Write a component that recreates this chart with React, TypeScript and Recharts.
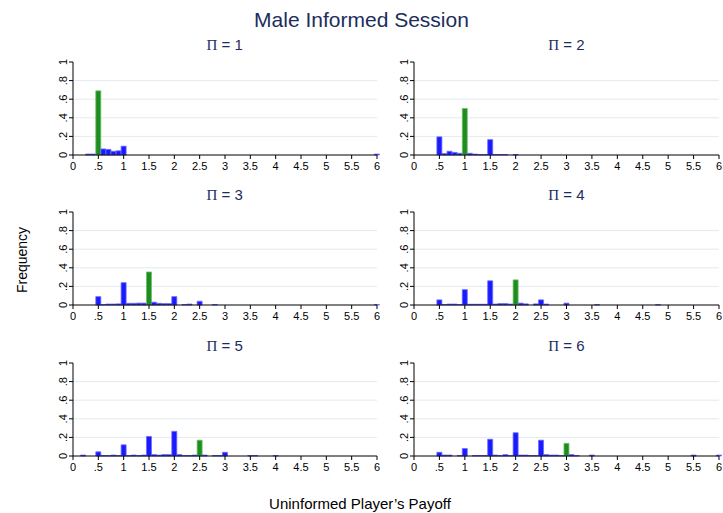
import React from "react";
import { BarChart, Bar, XAxis, YAxis, CartesianGrid, Cell } from "recharts";

const FONT = '"Liberation Sans", Arial, Helvetica, sans-serif';
const NAVY = "#1c2d5c";
const BLUE = "#1a1aff";
const BLUE_EDGE = "#6a6aff";
const GREEN = "#1e8c1e";
const GREEN_EDGE = "#6cbf6c";

const chartTitle = "Male Informed Session";
const yTitle = "Frequency";
const xTitle = "Uninformed Player\u2019s Payoff";

const xTicks = [0, 0.5, 1, 1.5, 2, 2.5, 3, 3.5, 4, 4.5, 5, 5.5, 6];
const yTicks = [0, 0.2, 0.4, 0.6, 0.8, 1];
const gridValues = [0.2, 0.4, 0.6, 0.8];

// equilibrium (green) bin for each Π
const piValues = [1, 2, 3, 4, 5, 6];
const greenBins = [0.5, 1, 1.5, 2, 2.5, 3];

const bins1 = [0.3, 0.4, 0.5, 0.6, 0.7, 0.8, 0.9, 1.0, 6.0];
const freq1 = [0.01, 0.01, 0.69, 0.065, 0.06, 0.04, 0.045, 0.095, 0.01];

const bins2 = [0.5, 0.6, 0.7, 0.8, 0.9, 1.0, 1.1, 1.2, 1.3, 1.4, 1.5, 1.6, 1.7, 1.8, 2.0];
const freq2 = [0.195, 0.015, 0.04, 0.028, 0.018, 0.5, 0.018, 0.01, 0.005, 0.005, 0.165, 0.005, 0.005, 0.005, 0.005];

const bins3 = [0.5, 0.6, 0.7, 0.8, 0.9, 1.0, 1.1, 1.2, 1.3, 1.4, 1.5, 1.6, 1.7, 1.8, 1.9, 2.0, 2.2, 2.3, 2.5, 2.8, 6.0];
const freq3 = [0.09, 0.005, 0.01, 0.01, 0.012, 0.24, 0.018, 0.018, 0.02, 0.02, 0.355, 0.03, 0.018, 0.015, 0.015, 0.09, 0.005, 0.01, 0.04, 0.005, 0.005];

const bins4 = [0.5, 0.6, 0.7, 0.8, 0.9, 1.0, 1.1, 1.2, 1.3, 1.4, 1.5, 1.6, 1.7, 1.8, 1.9, 2.0, 2.1, 2.2, 2.4, 2.5, 2.6, 3.0, 3.6, 4.8];
const freq4 = [0.055, 0.005, 0.01, 0.01, 0.005, 0.165, 0.008, 0.008, 0.008, 0.008, 0.26, 0.01, 0.015, 0.015, 0.01, 0.27, 0.02, 0.012, 0.012, 0.055, 0.01, 0.02, 0.003, 0.003];

const bins5 = [0.2, 0.5, 0.6, 0.7, 0.8, 0.9, 1.0, 1.1, 1.2, 1.3, 1.4, 1.5, 1.6, 1.7, 1.8, 1.9, 2.0, 2.1, 2.2, 2.3, 2.4, 2.5, 2.6, 2.8, 2.9, 3.0, 3.5, 3.6, 4.0];
const freq5 = [0.01, 0.045, 0.005, 0.005, 0.01, 0.005, 0.12, 0.005, 0.01, 0.005, 0.01, 0.21, 0.015, 0.01, 0.015, 0.015, 0.265, 0.015, 0.005, 0.005, 0.01, 0.17, 0.01, 0.005, 0.005, 0.04, 0.005, 0.005, 0.005];

const bins6 = [0.5, 0.6, 0.7, 0.9, 1.0, 1.2, 1.3, 1.4, 1.5, 1.6, 1.7, 1.8, 1.9, 2.0, 2.1, 2.2, 2.3, 2.4, 2.5, 2.6, 2.7, 2.8, 2.9, 3.0, 3.1, 3.2, 3.5, 5.5, 6.0];
const freq6 = [0.04, 0.01, 0.01, 0.005, 0.08, 0.005, 0.005, 0.005, 0.18, 0.01, 0.005, 0.015, 0.005, 0.25, 0.01, 0.01, 0.005, 0.005, 0.17, 0.015, 0.01, 0.01, 0.005, 0.136, 0.015, 0.005, 0.01, 0.01, 0.01];

const allBins = [bins1, bins2, bins3, bins4, bins5, bins6];
const allFreq = [freq1, freq2, freq3, freq4, freq5, freq6];

// layout of plot areas (page coordinates)
const colLeft = [72.7, 414];
const colWidth = [304, 305];
const rowTop = [62.3, 212.3, 362.7];
const PLOT_H = 93;
const Y_AXIS_W = 35;
const M_TOP = 5;
const M_RIGHT = 15;
const X_AXIS_H = 25;

const fmt = (v: number) => {
  if (v === 0) return "0";
  const s = String(Math.round(v * 10) / 10);
  return s.startsWith("0.") ? s.slice(1) : s;
};

const YTick = (props: any) => {
  const { x, y, payload } = props;
  return (
    <text
      x={x}
      y={y}
      transform={`rotate(-90 ${x} ${y})`}
      textAnchor="middle"
      fontSize={11}
      fill="#000"
      fontFamily={FONT}
    >
      {fmt(payload.value)}
    </text>
  );
};

function Panel({ idx }: { idx: number }) {
  const col = idx % 2;
  const row = Math.floor(idx / 2);
  const plotLeft = colLeft[col];
  const plotW = colWidth[col];
  const plotTop = rowTop[row];
  const W = Y_AXIS_W + plotW + M_RIGHT;
  const H = M_TOP + PLOT_H + X_AXIS_H;
  const data = allBins[idx].map((b, i) => ({ x: b, y: allFreq[idx][i] }));
  const green = greenBins[idx];
  return (
    <>
      <div
        style={{
          position: "absolute",
          left: plotLeft,
          top: plotTop - 26,
          width: plotW,
          textAlign: "center",
          fontFamily: FONT,
          fontSize: 15,
          color: NAVY,
          lineHeight: "18px",
        }}
      >
        <span style={{ fontFamily: '"Liberation Serif", "DejaVu Serif", serif', color: NAVY }}>Π</span>
        {" = " + piValues[idx]}
      </div>
      <div style={{ position: "absolute", left: plotLeft - Y_AXIS_W, top: plotTop - M_TOP }}>
        <BarChart
          width={W}
          height={H}
          data={data}
          margin={{ top: M_TOP, right: M_RIGHT, left: 0, bottom: 0 }}
          barCategoryGap={0}
        >
          <CartesianGrid
            vertical={false}
            horizontalValues={gridValues}
            stroke="#e2ebee"
            strokeWidth={1}
          />
          <XAxis
            dataKey="x"
            type="number"
            domain={[0, 6]}
            ticks={xTicks}
            interval={0}
            tickFormatter={fmt}
            height={X_AXIS_H}
            tickSize={4}
            tickMargin={3}
            axisLine={{ stroke: "#000" }}
            tickLine={{ stroke: "#000" }}
            tick={{ fontSize: 11, fill: "#000", fontFamily: FONT }}
          />
          <YAxis
            type="number"
            domain={[0, 1]}
            ticks={yTicks}
            interval={0}
            width={Y_AXIS_W}
            tickSize={4}
            tickMargin={2}
            axisLine={{ stroke: "#000" }}
            tickLine={{ stroke: "#000" }}
            tick={<YTick />}
          />
          <Bar dataKey="y" barSize={5} isAnimationActive={false}>
            {data.map((d, i) => (
              <Cell
                key={i}
                fill={d.x === green ? GREEN : BLUE}
                stroke={d.x === green ? GREEN_EDGE : BLUE_EDGE}
                strokeWidth={0.8}
              />
            ))}
          </Bar>
        </BarChart>
      </div>
    </>
  );
}

export default function App() {
  return (
    <div
      style={{
        position: "absolute",
        left: 0,
        top: 0,
        width: 723,
        height: 513,
        background: "#fff",
        fontFamily: FONT,
        overflow: "hidden",
      }}
    >
      <div
        style={{
          position: "absolute",
          left: 0,
          top: 6,
          width: 723,
          textAlign: "center",
          fontSize: 21,
          color: NAVY,
          lineHeight: "28px",
        }}
      >
        {chartTitle}
      </div>
      {piValues.map((_, i) => (
        <Panel key={i} idx={i} />
      ))}
      <div
        style={{
          position: "absolute",
          left: 22 - 60,
          top: 260 - 10,
          width: 120,
          height: 20,
          lineHeight: "20px",
          textAlign: "center",
          fontSize: 14,
          color: "#000",
          transform: "rotate(-90deg)",
        }}
      >
        {yTitle}
      </div>
      <div
        style={{
          position: "absolute",
          left: 160,
          top: 496,
          width: 400,
          textAlign: "center",
          fontSize: 15,
          color: "#000",
          lineHeight: "16px",
        }}
      >
        {xTitle}
      </div>
    </div>
  );
}
